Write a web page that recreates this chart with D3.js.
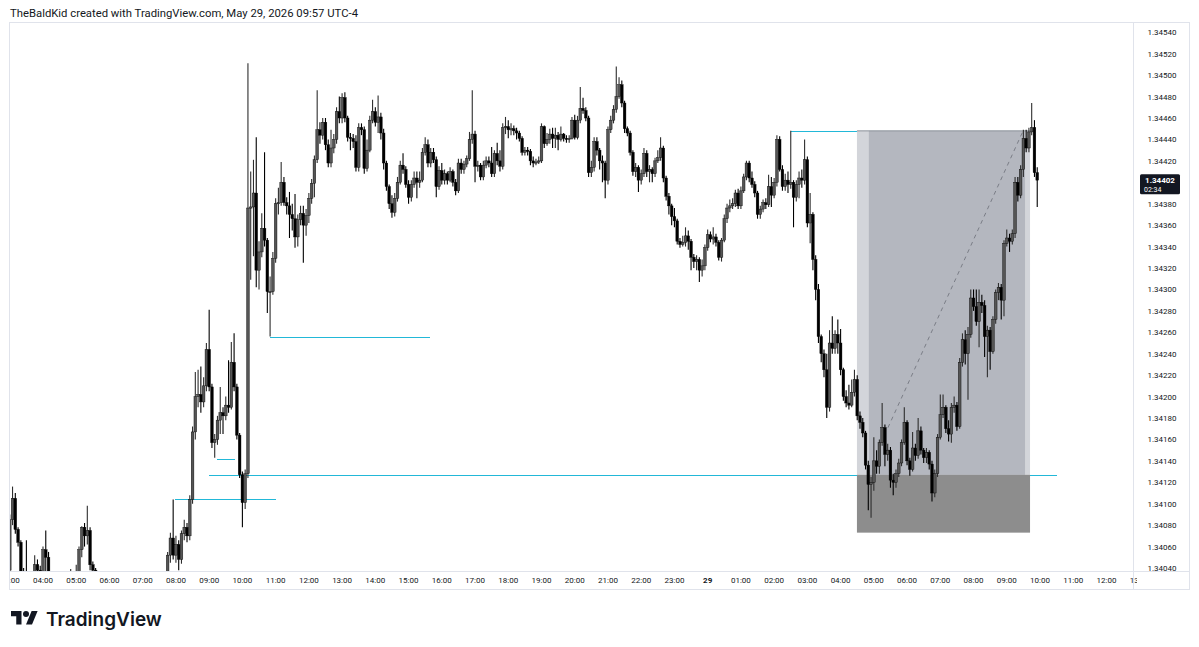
<!DOCTYPE html>
<html>
<head>
<meta charset="utf-8">
<script src="https://cdn.jsdelivr.net/npm/d3@7"></script>
<style>
  body { margin: 0; background: #fff; }
  svg { display: block; font-family: Roboto, "Liberation Sans", sans-serif; }
</style>
</head>
<body>
<svg width="1199" height="647"></svg>
<script>
// 5 minute candles, values in points above 1.34000
const BASE = 1.34;
const FIRST_OPEN = 38;

const closePts = [
  85,105,76,64,35,30,25,22,20,43,
  38,30,57,50,35,28,22,18,20,15,
  18,22,25,25,30,57,78,70,75,43,
  38,30,26,22,24,20,16,18,14,12,
  15,18,16,20,22,18,21,24,20,23,
  26,22,20,24,27,25,25,52,68,52,
  62,48,72,78,70,104,167,200,202,195,
  210,244,209,157,160,178,185,182,192,190,
  232,209,164,127,101,128,376,377,390,318,
  335,357,346,298,298,329,380,381,400,381,
  378,370,366,349,365,371,360,369,385,399,
  421,449,444,456,435,418,432,440,466,460,
  479,460,442,441,438,414,451,449,413,430,
  458,466,456,461,446,418,396,380,372,385,
  400,416,412,398,386,398,404,400,402,428,
  435,418,428,421,396,411,402,408,402,410,
  400,392,418,412,417,422,440,445,415,416,
  405,416,420,418,408,427,420,415,451,452,
  449,450,448,446,441,428,430,429,420,418,
  419,420,452,436,440,445,441,444,440,445,
  441,440,441,458,442,458,469,467,460,409,
  414,438,430,420,418,402,449,458,468,480,
  491,474,450,446,428,410,414,402,408,427,
  410,412,408,420,423,432,404,387,378,368,
  364,345,342,344,350,345,330,326,328,318,
  322,339,351,347,349,344,330,346,366,376,
  378,380,390,378,392,405,418,404,398,390,
  370,375,381,379,396,388,400,440,412,396,
  402,398,400,386,398,404,402,421,362,370,
  328,300,256,240,225,190,250,245,258,250,
  225,200,194,192,204,216,182,176,166,136,
  118,120,140,135,157,171,146,150,122,120,
  128,138,157,176,140,132,152,145,168,150,
  143,148,137,110,128,162,183,190,170,165,
  190,192,172,232,253,240,258,292,284,270,
  288,285,256,262,242,272,297,302,290,343,
  348,345,352,400,388,412,441,432,447,451,
  409,402
];

const highPts = [
  90,116,110,78,66,40,66,30,28,52,
  48,42,60,75,55,37,32,26,24,25,
  22,28,39,30,43,60,79,82,98,78,
  46,40,33,29,28,27,23,22,21,18,
  19,22,21,24,27,25,25,28,27,27,
  30,29,25,28,32,30,30,55,73,104,
  70,66,75,85,82,108,172,223,225,228,
  218,250,281,212,165,182,209,190,200,234,
  251,259,212,166,130,132,511,410,421,442,
  345,371,428,348,312,335,385,395,419,405,
  386,391,380,389,370,378,378,375,390,403,
  425,486,456,460,460,440,449,445,470,480,
  483,484,462,446,445,444,455,455,452,440,
  462,477,470,481,465,450,420,398,388,390,
  405,420,427,415,402,402,410,410,410,432,
  442,440,432,432,424,415,418,412,410,414,
  412,403,422,422,420,425,447,486,448,420,
  418,420,424,424,433,430,437,430,455,461,
  458,455,453,451,448,443,433,433,431,424,
  422,424,455,453,446,450,451,451,447,452,
  446,444,444,461,463,462,489,479,470,462,
  420,442,442,432,425,420,452,462,472,508,
  498,495,476,452,448,430,418,416,412,432,
  430,416,414,423,430,442,434,406,390,380,
  376,366,348,350,358,355,347,333,332,330,
  328,342,356,354,358,352,346,348,370,380,
  384,385,393,394,396,408,420,420,410,401,
  392,378,384,385,407,405,404,444,443,416,
  408,410,448,402,402,410,412,440,424,390,
  372,332,305,258,244,240,262,275,262,272,
  263,227,206,211,216,225,220,186,180,168,
  140,125,162,150,160,194,174,156,153,128,
  132,142,160,190,178,143,167,156,180,172,
  152,152,150,140,132,165,202,202,192,178,
  194,200,195,236,259,262,265,300,300,300,
  300,295,290,266,265,275,300,306,305,346,
  356,352,356,405,405,416,449,449,451,474,
  458,414
];

const lowPts = [
  30,80,72,60,25,20,15,12,10,15,
  30,20,25,35,25,18,15,10,8,5,
  8,12,15,18,18,25,50,60,62,38,
  30,20,20,15,16,12,10,8,6,4,
  6,10,10,12,15,12,14,17,14,16,
  19,16,13,16,20,19,18,22,45,48,
  45,38,44,66,64,66,100,160,190,185,
  190,205,205,152,143,155,165,165,178,185,
  188,205,160,124,78,95,124,309,331,302,
  300,330,340,278,256,295,325,370,378,378,
  370,348,355,339,340,360,325,350,362,380,
  386,418,436,440,430,414,414,427,436,455,
  455,456,438,430,432,410,410,444,408,410,
  428,455,452,446,440,412,392,375,367,368,
  382,398,408,395,380,382,395,385,395,400,
  425,414,414,418,386,393,398,398,398,400,
  396,388,390,408,408,414,420,436,400,410,
  402,402,413,414,405,405,416,410,412,445,
  441,444,444,440,438,425,425,425,416,414,
  416,417,418,432,434,436,432,432,430,438,
  438,437,437,440,440,440,455,464,457,405,
  405,410,425,412,400,385,398,446,455,465,
  478,470,446,443,425,406,405,391,398,405,
  405,400,400,405,418,420,400,383,370,360,
  358,342,339,340,340,337,318,320,318,307,
  312,318,336,344,342,340,327,326,344,362,
  372,375,377,375,375,390,402,400,395,386,
  366,366,372,375,377,377,385,396,410,392,
  392,390,394,358,382,385,395,398,358,343,
  318,290,250,232,218,180,186,240,240,240,
  220,196,190,188,190,200,178,170,162,132,
  94,87,112,128,128,154,135,140,115,108,
  115,125,135,155,136,126,130,140,142,146,
  138,138,132,102,106,125,160,180,166,158,
  157,185,168,170,228,230,197,255,280,266,
  246,278,237,218,225,240,268,290,272,275,
  340,335,342,348,382,385,405,428,428,444,
  405,377
];

// hourly time-axis labels, one per 12 bars starting at the first bar (03:00)
const timeLabels = ['03:00','04:00','05:00','06:00','07:00','08:00','09:00','10:00','11:00','12:00',
  '13:00','14:00','15:00','16:00','17:00','18:00','19:00','20:00','21:00','22:00','23:00','29',
  '01:00','02:00','03:00','04:00','05:00','06:00','07:00','08:00','09:00','10:00','11:00','12:00','13:00'];
// 1.34400 is hidden behind the last-price label, as in the reference
const priceTicks = [1.34040,1.34060,1.34080,1.34100,1.34120,1.34140,1.34160,1.34180,1.34200,1.34220,
  1.34240,1.34260,1.34280,1.34300,1.34320,1.34340,1.34360,1.34380,1.34420,1.34440,1.34460,
  1.34480,1.34500,1.34520,1.34540];

// drawn levels: price and bar range
const levelPrices = [1.34256, 1.34127, 1.34104, 1.34142, 1.34448];
const levelFrom   = [94, 72, 59.7, 74.9, 282];
const levelTo     = [151.7, 378.2, 96.1, 81.4, 305.9];

// long position tool
const posEntry = 1.34127, posTarget = 1.34448, posStop = 1.34073;
const posBars = [305.9, 368.4], posInner = [310.2, 366.6];
const pathFrom = [317.1, 1.34171], pathTo = [365.9, 1.34448];

const CAPTION = 'TheBaldKid created with TradingView.com, May 29, 2026 09:57 UTC-4';
const lastCountdown = '02:34';

const candles = closePts.map((c, i) => ({
  i: i,
  o: BASE + (i === 0 ? FIRST_OPEN : closePts[i - 1]) / 1e5,
  c: BASE + c / 1e5,
  h: BASE + highPts[i] / 1e5,
  l: BASE + lowPts[i] / 1e5
}));

const svg = d3.select('svg');
const P = {left: 9, top: 22, right: 1133, bottom: 571, axisRight: 1190, axisBottom: 590};

const x = d3.scaleLinear().domain([12, 372]).range([43, 1040]);
const y = d3.scaleLinear().domain([1.34040, 1.34540]).range([568, 32.3]);

svg.append('text')
  .attr('x', 10).attr('y', 17)
  .attr('font-size', 11.5).attr('fill', '#131722')
  .attr('textLength', 348).attr('lengthAdjust', 'spacingAndGlyphs')
  .text(CAPTION);

// panel frame
svg.append('rect')
  .attr('x', P.left + 0.5).attr('y', P.top + 0.5)
  .attr('width', P.axisRight - P.left - 1).attr('height', P.axisBottom - P.top - 1)
  .attr('fill', '#fff').attr('stroke', '#e0e3eb');
svg.append('line')
  .attr('x1', P.right + 0.5).attr('x2', P.right + 0.5)
  .attr('y1', P.top).attr('y2', P.axisBottom)
  .attr('stroke', '#e0e3eb');
svg.append('line')
  .attr('x1', P.left).attr('x2', P.axisRight)
  .attr('y1', P.bottom + 0.5).attr('y2', P.bottom + 0.5)
  .attr('stroke', '#e0e3eb');

const defs = svg.append('defs');
defs.append('clipPath').attr('id', 'plot')
  .append('rect').attr('x', P.left + 1).attr('y', P.top + 1)
  .attr('width', P.right - P.left - 1).attr('height', P.bottom - P.top - 1);
defs.append('clipPath').attr('id', 'taxis')
  .append('rect').attr('x', P.left + 1).attr('y', P.bottom)
  .attr('width', P.right - P.left + 3).attr('height', P.axisBottom - P.bottom);

const plot = svg.append('g').attr('clip-path', 'url(#plot)');

// horizontal levels
const lvl = plot.append('g').attr('shape-rendering', 'crispEdges');
levelPrices.forEach((p, k) => {
  lvl.append('line')
    .attr('x1', x(levelFrom[k])).attr('x2', x(levelTo[k]))
    .attr('y1', Math.round(y(p)) + 0.5).attr('y2', Math.round(y(p)) + 0.5)
    .attr('stroke', '#22b8d8').attr('stroke-width', 1);
});

// long position
const pos = plot.append('g');
pos.append('rect')
  .attr('x', x(posBars[0])).attr('width', x(posBars[1]) - x(posBars[0]))
  .attr('y', y(posTarget)).attr('height', y(posEntry) - y(posTarget))
  .attr('fill', '#d3d5da');
pos.append('rect')
  .attr('x', x(posInner[0])).attr('width', x(posInner[1]) - x(posInner[0]))
  .attr('y', y(posTarget)).attr('height', y(posEntry) - y(posTarget))
  .attr('fill', '#b4b7bf');
pos.append('rect')
  .attr('x', x(posBars[0])).attr('width', x(posBars[1]) - x(posBars[0]))
  .attr('y', y(posEntry)).attr('height', y(posStop) - y(posEntry))
  .attr('fill', '#8d8d8d');
pos.append('line')
  .attr('x1', x(posBars[0])).attr('x2', x(posBars[1]))
  .attr('y1', y(posTarget)).attr('y2', y(posTarget))
  .attr('stroke', '#8a9099');
pos.append('line')
  .attr('x1', x(pathFrom[0])).attr('y1', y(pathFrom[1]))
  .attr('x2', x(pathTo[0])).attr('y2', y(pathTo[1]))
  .attr('stroke', '#7a7d86').attr('stroke-dasharray', '4,4');

// candles
const up = d => d.c >= d.o;
const cg = plot.append('g');
cg.selectAll('line.wick').data(candles).join('line')
  .attr('class', 'wick')
  .attr('x1', d => x(d.i)).attr('x2', d => x(d.i))
  .attr('y1', d => y(d.h)).attr('y2', d => y(d.l))
  .attr('stroke-width', 1.1)
  .attr('stroke', d => up(d) ? '#2e2e2e' : '#000');
cg.selectAll('rect.body').data(candles).join('rect')
  .attr('class', 'body')
  .attr('x', d => x(d.i) - 1.35)
  .attr('width', 2.7)
  .attr('y', d => y(Math.max(d.o, d.c)))
  .attr('height', d => Math.max(1.2, Math.abs(y(d.o) - y(d.c))))
  .attr('fill', d => up(d) ? '#555' : '#000')
  .attr('stroke', '#000').attr('stroke-width', 0.4);

// price axis
const pa = svg.append('g');
pa.selectAll('text').data(priceTicks).join('text')
  .attr('x', 1162).attr('y', d => y(d) + 3)
  .attr('text-anchor', 'middle').attr('font-size', 8).attr('fill', '#131722')
  .text(d => d.toFixed(5));

const last = candles[candles.length - 1];
const ly = y(last.c);
pa.append('rect')
  .attr('x', 1140).attr('y', ly - 6).attr('width', 40).attr('height', 20)
  .attr('rx', 1.5).attr('fill', '#131722');
pa.append('text')
  .attr('x', 1160).attr('y', ly + 2.5)
  .attr('text-anchor', 'middle').attr('font-size', 8).attr('font-weight', 'bold').attr('fill', '#fff')
  .text(last.c.toFixed(5));
pa.append('text')
  .attr('x', 1144).attr('y', ly + 11.5)
  .attr('font-size', 7).attr('fill', '#fff')
  .text(lastCountdown);

// time axis
const ta = svg.append('g').attr('clip-path', 'url(#taxis)');
ta.selectAll('text').data(timeLabels).join('text')
  .attr('x', (d, k) => x(k * 12)).attr('y', 583)
  .attr('text-anchor', 'middle').attr('font-size', 8)
  .attr('font-weight', d => d.length === 2 ? 'bold' : 'normal')
  .attr('fill', '#131722')
  .text(d => d);

// TradingView mark
const logo = svg.append('g').attr('transform', 'translate(11,608) scale(0.75)').attr('fill', '#131722');
logo.append('path').attr('d', 'M14 22H7V11H0V4h14v18zM28 22h-8l7.5-18h8L28 22z');
logo.append('circle').attr('cx', 20).attr('cy', 8).attr('r', 4);
svg.append('text')
  .attr('x', 46).attr('y', 626)
  .attr('font-family', 'Inter, Roboto, sans-serif')
  .attr('font-size', 19).attr('font-weight', 600).attr('fill', '#131722')
  .text('TradingView');
</script>
</body>
</html>
